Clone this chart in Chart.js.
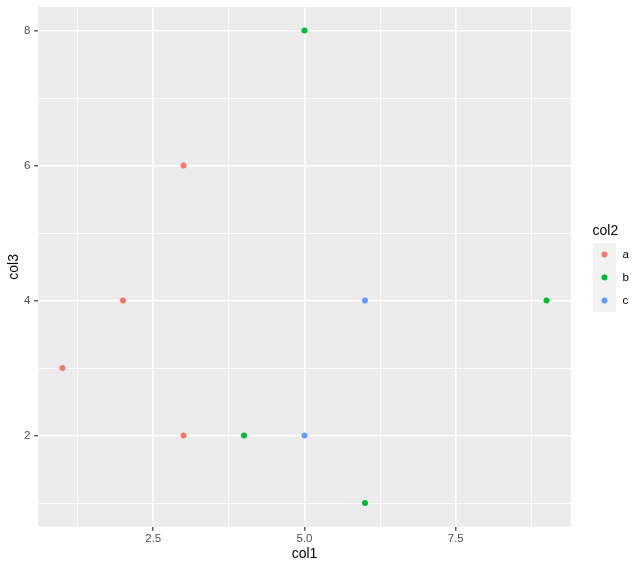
<!DOCTYPE html>
<html>
<head>
<meta charset="utf-8">
<script src="https://cdn.jsdelivr.net/npm/chart.js@4"></script>
<style>
html,body{margin:0;padding:0;background:#fff;}
#wrap{width:644px;height:569px;}
</style>
</head>
<body>
<div id="wrap"><canvas id="c" width="644" height="569"></canvas></div>
<script>
// ---- data ----
const seriesNames = ['a', 'b', 'c'];
const seriesColors = ['#F8766D', '#00BA38', '#619CFF'];
const aX = [1, 2, 3, 3];
const aY = [3, 4, 6, 2];
const bX = [5, 4, 6, 9];
const bY = [8, 2, 1, 4];
const cX = [6, 5];
const cY = [4, 2];
const xMajorTicks = [2.5, 5, 7.5];
const xTickLabels = ['2.5', '5.0', '7.5'];
const xMinorTicks = [1.25, 3.75, 6.25, 8.75];
const yMajorTicks = [2, 4, 6, 8];
const yTickLabels = ['2', '4', '6', '8'];
const yMinorTicks = [1, 3, 5, 7];
const xTitle = 'col1';
const yTitle = 'col3';
const legendTitle = 'col2';

const xs = [aX, bX, cX];
const ys = [aY, bY, cY];
const datasets = seriesNames.map((n, i) => ({
  label: n,
  data: xs[i].map((x, j) => ({x: x, y: ys[i][j]})),
  backgroundColor: seriesColors[i],
  borderWidth: 0,
  pointRadius: 3,
  pointHoverRadius: 3
}));

const FONT = 'Liberation Sans, Arial, Helvetica, sans-serif';

const panelBg = {
  id: 'panelBg',
  beforeDraw(chart) {
    const {ctx, chartArea: a} = chart;
    ctx.save();
    ctx.fillStyle = '#EBEBEB';
    ctx.fillRect(a.left, a.top, a.right - a.left, a.bottom - a.top);
    ctx.restore();
  }
};

const ggLegend = {
  id: 'ggLegend',
  afterDraw(chart) {
    const ctx = chart.ctx;
    ctx.save();
    ctx.fillStyle = '#000';
    ctx.font = '14px ' + FONT;
    ctx.textAlign = 'left';
    ctx.textBaseline = 'middle';
    ctx.fillText(legendTitle, 592.5, 231);
    chart.data.datasets.forEach((ds, i) => {
      const top = 243 + 23 * i;
      ctx.fillStyle = '#F2F2F2';
      ctx.fillRect(593, top, 23, 23);
      ctx.fillStyle = ds.backgroundColor;
      ctx.beginPath();
      ctx.arc(604.5, top + 11.5, 3, 0, Math.PI * 2);
      ctx.fill();
      ctx.fillStyle = '#000';
      ctx.font = '11.5px ' + FONT;
      ctx.fillText(ds.label, 622.5, top + 11.5);
    });
    ctx.restore();
  }
};

function isIn(arr, v) { return arr.some(t => Math.abs(t - v) < 1e-9); }

new Chart(document.getElementById('c'), {
  type: 'scatter',
  data: {datasets: datasets},
  plugins: [panelBg, ggLegend],
  options: {
    responsive: false,
    animation: false,
    events: [],
    layout: {padding: {left: 0, top: 7, right: 73.3, bottom: 0}},
    plugins: {legend: {display: false}, tooltip: {enabled: false}},
    scales: {
      x: {
        type: 'linear',
        min: 0.6, max: 9.4,
        afterBuildTicks: s => {
          s.ticks = xMinorTicks.concat(xMajorTicks).sort((p, q) => p - q).map(v => ({value: v}));
        },
        afterFit: s => { s.height = 42.3; s.paddingLeft = 0; s.paddingRight = 0; },
        border: {display: false},
        grid: {
          color: '#FFFFFF',
          lineWidth: c => isIn(xMajorTicks, c.tick.value) ? 1.6 : 0.8,
          tickColor: c => isIn(xMajorTicks, c.tick.value) ? '#333333' : 'rgba(0,0,0,0)',
          tickWidth: 1.2,
          tickLength: 4,
          drawTicks: true
        },
        ticks: {
          autoSkip: false, maxRotation: 0, padding: 1,
          color: '#4D4D4D',
          font: {family: FONT, size: 11.5},
          callback: v => { const k = xMajorTicks.findIndex(t => Math.abs(t - v) < 1e-9); return k >= 0 ? xTickLabels[k] : ''; }
        },
        title: {display: true, text: xTitle, color: '#000', font: {family: FONT, size: 14}, padding: {top: 0, bottom: 6.6}}
      },
      y: {
        type: 'linear',
        min: 0.65, max: 8.35,
        afterBuildTicks: s => {
          s.ticks = yMinorTicks.concat(yMajorTicks).sort((p, q) => p - q).map(v => ({value: v}));
        },
        afterFit: s => { s.width = 38.3; s.paddingTop = 0; s.paddingBottom = 0; },
        border: {display: false},
        grid: {
          color: '#FFFFFF',
          lineWidth: c => isIn(yMajorTicks, c.tick.value) ? 1.6 : 0.8,
          tickColor: c => isIn(yMajorTicks, c.tick.value) ? '#333333' : 'rgba(0,0,0,0)',
          tickWidth: 1.2,
          tickLength: 4,
          drawTicks: true
        },
        ticks: {
          autoSkip: false, padding: 4,
          color: '#4D4D4D',
          font: {family: FONT, size: 11.5},
          callback: v => { const k = yMajorTicks.findIndex(t => Math.abs(t - v) < 1e-9); return k >= 0 ? yTickLabels[k] : ''; }
        },
        title: {display: true, text: yTitle, color: '#000', font: {family: FONT, size: 14}, padding: {top: 6, bottom: 0}}
      }
    }
  }
});
</script>
</body>
</html>
